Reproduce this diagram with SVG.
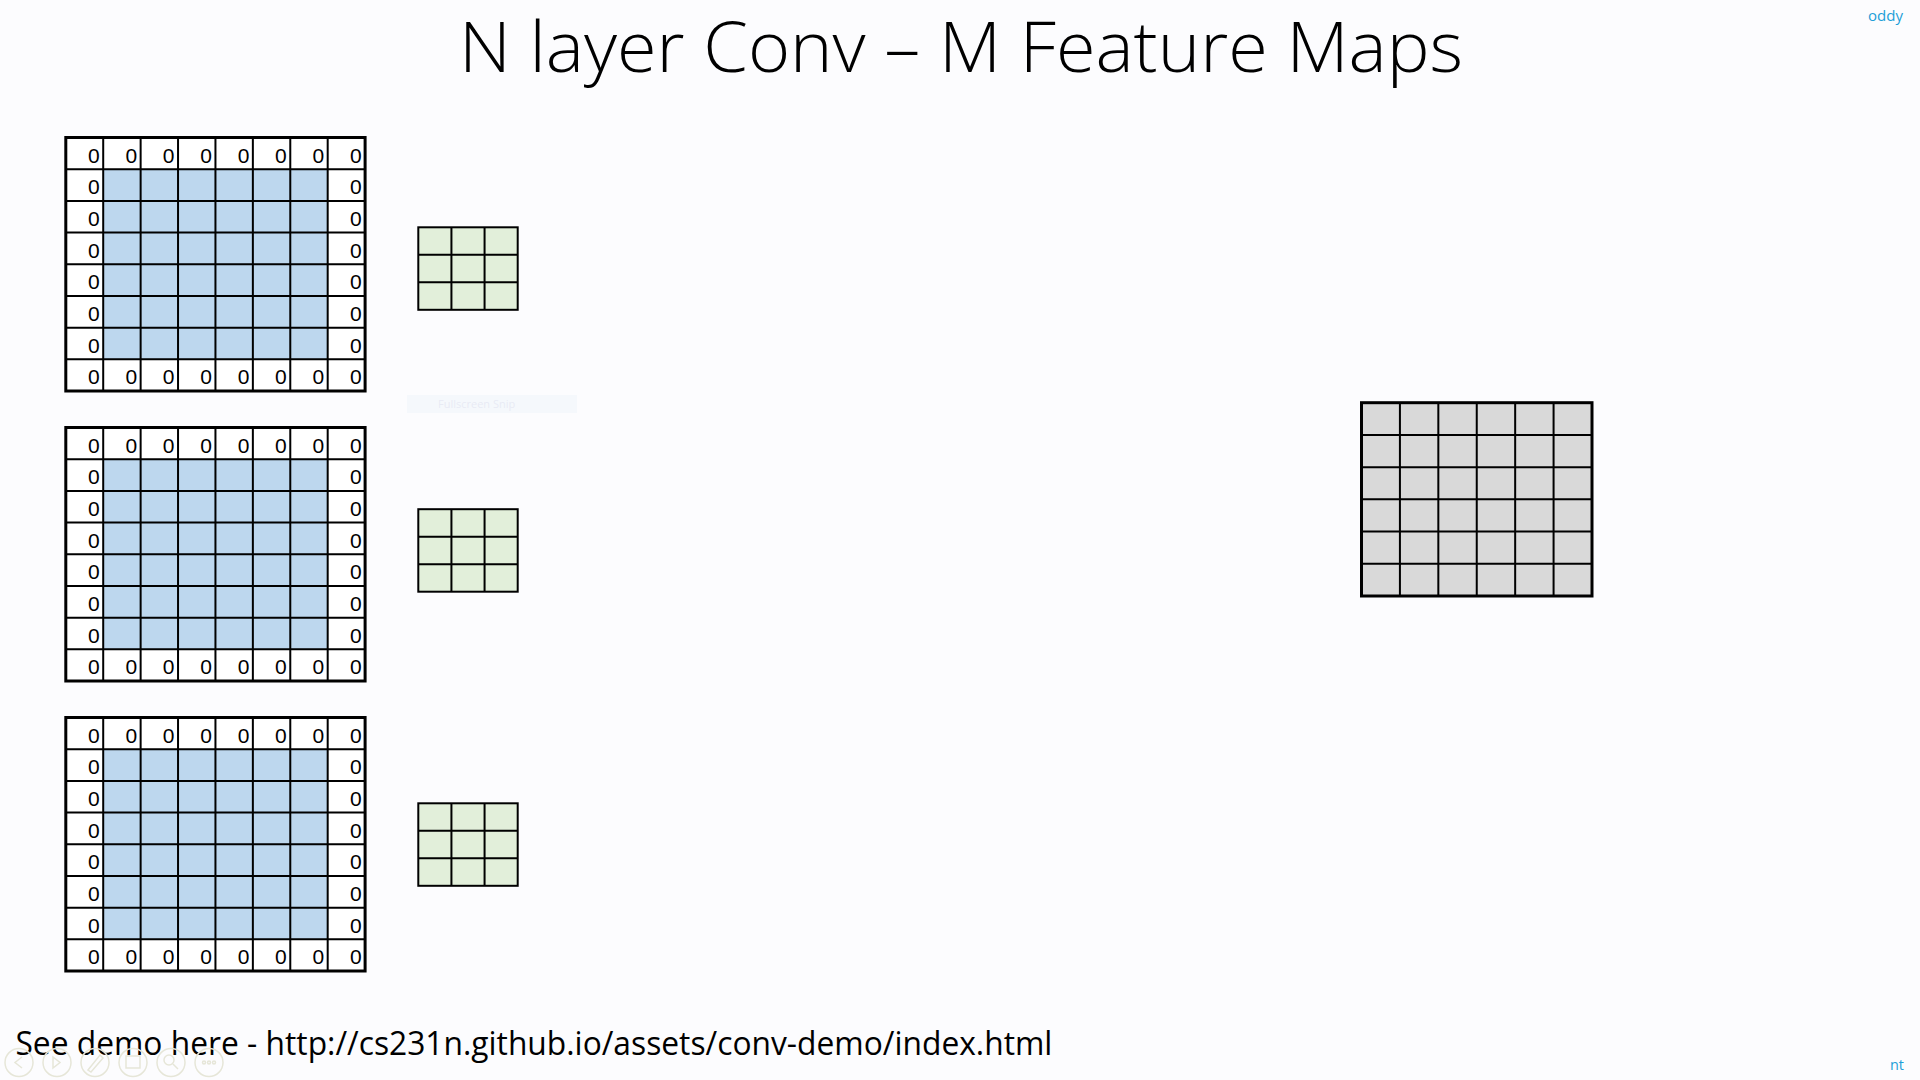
<svg xmlns="http://www.w3.org/2000/svg" xmlns:xlink="http://www.w3.org/1999/xlink" width="1920" height="1080" viewBox="0 0 1920 1080">
<style>
.z{font-family:"Liberation Sans",Arial,sans-serif;font-size:21px;fill:#000;text-anchor:end}
.b{fill:none;stroke:#000;stroke-width:3}
.l{fill:none;stroke:#000;stroke-width:2}
.blue{fill:#BDD7EE}
.green{fill:#E2EFDA}
.gray{fill:#D9D9D9}
.white{fill:#FFFFFF}
.ttl{font-family:"Open Sans","Liberation Sans",sans-serif;font-weight:300;font-size:70px;fill:#000}
.foot{font-family:"Open Sans","Liberation Sans",sans-serif;font-size:33px;fill:#000}
.tag{font-family:"Open Sans","Liberation Sans",sans-serif;font-size:15px;fill:#1E9FD8}
.ico{fill:none;stroke:#E6E6D8;stroke-width:1.5}
</style>
<rect x="0" y="0" width="1920" height="1080" fill="#FCFCFE"/>

<text class="ttl" x="459" y="72.3" textLength="1004" lengthAdjust="spacingAndGlyphs">N layer Conv – M Feature Maps</text>

<g id="input-1" transform="translate(65.8,137.5)">
<rect class="white" x="0" y="0" width="299.3" height="253.5"/>
<rect class="blue" x="37.41" y="31.69" width="224.48" height="190.12"/>
<path class="l" d="M37.41 0V253.5M74.83 0V253.5M112.24 0V253.5M149.65 0V253.5M187.06 0V253.5M224.48 0V253.5M261.89 0V253.5M0 31.69H299.3M0 63.38H299.3M0 95.06H299.3M0 126.75H299.3M0 158.44H299.3M0 190.13H299.3M0 221.81H299.3"/>
<rect class="b" x="0" y="0" width="299.3" height="253.5"/>
<text class="z" x="33.9" y="25">0</text><text class="z" x="71.3" y="25">0</text><text class="z" x="108.7" y="25">0</text><text class="z" x="146.2" y="25">0</text><text class="z" x="183.6" y="25">0</text><text class="z" x="221" y="25">0</text><text class="z" x="258.4" y="25">0</text><text class="z" x="295.8" y="25">0</text>
<text class="z" x="33.9" y="56.7">0</text><text class="z" x="295.8" y="56.7">0</text>
<text class="z" x="33.9" y="88.4">0</text><text class="z" x="295.8" y="88.4">0</text>
<text class="z" x="33.9" y="120.1">0</text><text class="z" x="295.8" y="120.1">0</text>
<text class="z" x="33.9" y="151.8">0</text><text class="z" x="295.8" y="151.8">0</text>
<text class="z" x="33.9" y="183.4">0</text><text class="z" x="295.8" y="183.4">0</text>
<text class="z" x="33.9" y="215.1">0</text><text class="z" x="295.8" y="215.1">0</text>
<text class="z" x="33.9" y="246.8">0</text><text class="z" x="71.3" y="246.8">0</text><text class="z" x="108.7" y="246.8">0</text><text class="z" x="146.2" y="246.8">0</text><text class="z" x="183.6" y="246.8">0</text><text class="z" x="221" y="246.8">0</text><text class="z" x="258.4" y="246.8">0</text><text class="z" x="295.8" y="246.8">0</text>
</g>

<g id="input-2" transform="translate(65.8,427.5)">
<rect class="white" x="0" y="0" width="299.3" height="253.5"/>
<rect class="blue" x="37.41" y="31.69" width="224.48" height="190.12"/>
<path class="l" d="M37.41 0V253.5M74.83 0V253.5M112.24 0V253.5M149.65 0V253.5M187.06 0V253.5M224.48 0V253.5M261.89 0V253.5M0 31.69H299.3M0 63.38H299.3M0 95.06H299.3M0 126.75H299.3M0 158.44H299.3M0 190.13H299.3M0 221.81H299.3"/>
<rect class="b" x="0" y="0" width="299.3" height="253.5"/>
<text class="z" x="33.9" y="25">0</text><text class="z" x="71.3" y="25">0</text><text class="z" x="108.7" y="25">0</text><text class="z" x="146.2" y="25">0</text><text class="z" x="183.6" y="25">0</text><text class="z" x="221" y="25">0</text><text class="z" x="258.4" y="25">0</text><text class="z" x="295.8" y="25">0</text>
<text class="z" x="33.9" y="56.7">0</text><text class="z" x="295.8" y="56.7">0</text>
<text class="z" x="33.9" y="88.4">0</text><text class="z" x="295.8" y="88.4">0</text>
<text class="z" x="33.9" y="120.1">0</text><text class="z" x="295.8" y="120.1">0</text>
<text class="z" x="33.9" y="151.8">0</text><text class="z" x="295.8" y="151.8">0</text>
<text class="z" x="33.9" y="183.4">0</text><text class="z" x="295.8" y="183.4">0</text>
<text class="z" x="33.9" y="215.1">0</text><text class="z" x="295.8" y="215.1">0</text>
<text class="z" x="33.9" y="246.8">0</text><text class="z" x="71.3" y="246.8">0</text><text class="z" x="108.7" y="246.8">0</text><text class="z" x="146.2" y="246.8">0</text><text class="z" x="183.6" y="246.8">0</text><text class="z" x="221" y="246.8">0</text><text class="z" x="258.4" y="246.8">0</text><text class="z" x="295.8" y="246.8">0</text>
</g>

<g id="input-3" transform="translate(65.8,717.5)">
<rect class="white" x="0" y="0" width="299.3" height="253.5"/>
<rect class="blue" x="37.41" y="31.69" width="224.48" height="190.12"/>
<path class="l" d="M37.41 0V253.5M74.83 0V253.5M112.24 0V253.5M149.65 0V253.5M187.06 0V253.5M224.48 0V253.5M261.89 0V253.5M0 31.69H299.3M0 63.38H299.3M0 95.06H299.3M0 126.75H299.3M0 158.44H299.3M0 190.13H299.3M0 221.81H299.3"/>
<rect class="b" x="0" y="0" width="299.3" height="253.5"/>
<text class="z" x="33.9" y="25">0</text><text class="z" x="71.3" y="25">0</text><text class="z" x="108.7" y="25">0</text><text class="z" x="146.2" y="25">0</text><text class="z" x="183.6" y="25">0</text><text class="z" x="221" y="25">0</text><text class="z" x="258.4" y="25">0</text><text class="z" x="295.8" y="25">0</text>
<text class="z" x="33.9" y="56.7">0</text><text class="z" x="295.8" y="56.7">0</text>
<text class="z" x="33.9" y="88.4">0</text><text class="z" x="295.8" y="88.4">0</text>
<text class="z" x="33.9" y="120.1">0</text><text class="z" x="295.8" y="120.1">0</text>
<text class="z" x="33.9" y="151.8">0</text><text class="z" x="295.8" y="151.8">0</text>
<text class="z" x="33.9" y="183.4">0</text><text class="z" x="295.8" y="183.4">0</text>
<text class="z" x="33.9" y="215.1">0</text><text class="z" x="295.8" y="215.1">0</text>
<text class="z" x="33.9" y="246.8">0</text><text class="z" x="71.3" y="246.8">0</text><text class="z" x="108.7" y="246.8">0</text><text class="z" x="146.2" y="246.8">0</text><text class="z" x="183.6" y="246.8">0</text><text class="z" x="221" y="246.8">0</text><text class="z" x="258.4" y="246.8">0</text><text class="z" x="295.8" y="246.8">0</text>
</g>

<g id="kernel-1" transform="translate(418.3,227.3)">
<rect class="green" x="0" y="0" width="99.4" height="82.5"/>
<path class="l" d="M33.13 0V82.5M66.27 0V82.5M0 27.5H99.4M0 55H99.4"/>
<rect class="l" x="0" y="0" width="99.4" height="82.5"/>
</g>

<g id="kernel-2" transform="translate(418.3,509.2)">
<rect class="green" x="0" y="0" width="99.4" height="82.5"/>
<path class="l" d="M33.13 0V82.5M66.27 0V82.5M0 27.5H99.4M0 55H99.4"/>
<rect class="l" x="0" y="0" width="99.4" height="82.5"/>
</g>

<g id="kernel-3" transform="translate(418.3,803.3)">
<rect class="green" x="0" y="0" width="99.4" height="82.5"/>
<path class="l" d="M33.13 0V82.5M66.27 0V82.5M0 27.5H99.4M0 55H99.4"/>
<rect class="l" x="0" y="0" width="99.4" height="82.5"/>
</g>

<g id="snip-overlay" opacity="0.6">
<rect x="407" y="395" width="170" height="18" fill="#F1F7FC"/>
<text x="438" y="408" font-family="'Open Sans','Liberation Sans',sans-serif" font-size="11" fill="#DCDFEF">Fullscreen Snip</text>
</g>

<g id="output-map" transform="translate(1361.5,402.7)">
<rect class="gray" x="0" y="0" width="230.5" height="193.3"/>
<path class="l" d="M38.42 0V193.3M76.83 0V193.3M115.25 0V193.3M153.67 0V193.3M192.08 0V193.3M0 32.22H230.5M0 64.43H230.5M0 96.65H230.5M0 128.87H230.5M0 161.08H230.5" stroke-width="2.5"/>
<rect class="b" x="0" y="0" width="230.5" height="193.3"/>
</g>

<g id="connectors"></g>

<text class="foot" x="15.4" y="1055" textLength="1037" lengthAdjust="spacingAndGlyphs">See demo here - http://cs231n.github.io/assets/conv-demo/index.html</text>

<text class="tag" x="1868" y="21" textLength="35" lengthAdjust="spacingAndGlyphs">oddy</text>
<text class="tag" x="1890" y="1070" textLength="14" lengthAdjust="spacingAndGlyphs">nt</text>

<g id="toolbar">
<circle class="ico" cx="19" cy="1062.5" r="14"/>
<path class="ico" d="M22 1057L15 1062.5L22 1068"/>
<circle class="ico" cx="57" cy="1062.5" r="14"/>
<path class="ico" d="M53 1057L60 1062.5L53 1068Z"/>
<circle class="ico" cx="95" cy="1062.5" r="14"/>
<path class="ico" d="M88 1070L100 1055L103 1058L91 1072Z"/>
<circle class="ico" cx="133" cy="1062.5" r="14"/>
<rect class="ico" x="126" y="1056" width="14" height="12"/>
<circle class="ico" cx="171" cy="1062.5" r="14"/>
<circle class="ico" cx="169" cy="1060" r="5"/>
<path class="ico" d="M173 1064L178 1069"/>
<circle class="ico" cx="209" cy="1062.5" r="14"/>
<circle class="ico" cx="204" cy="1062.5" r="1.5"/>
<circle class="ico" cx="209" cy="1062.5" r="1.5"/>
<circle class="ico" cx="214" cy="1062.5" r="1.5"/>
</g>
</svg>
